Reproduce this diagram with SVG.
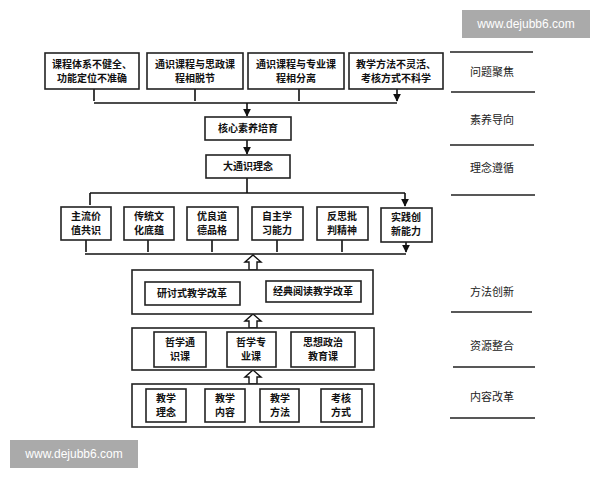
<svg xmlns="http://www.w3.org/2000/svg" width="600" height="480" viewBox="0 0 600 480">
<defs>
<marker id="ah" viewBox="0 0 10 10" refX="9" refY="5" markerWidth="5" markerHeight="5" orient="auto"><path d="M0,0L10,5L0,10z" fill="#111"/></marker>
<style>
.b{fill:#fff;stroke:#222;stroke-width:1.6}
.t{font-family:"Noto Sans CJK SC",sans-serif;font-size:10px;fill:#111;text-anchor:middle;font-weight:bold}
.l{font-family:"Noto Sans CJK SC",sans-serif;font-size:11px;fill:#222;text-anchor:middle}
.c{stroke:#111;stroke-width:1.6;fill:none}
.h{fill:#fff;stroke:#111;stroke-width:1.4}
.s{stroke:#222;stroke-width:1.5}
.w{font-family:"Liberation Sans",sans-serif;font-size:12px;fill:#fff;text-anchor:middle}
</style>
</defs>
<rect width="600" height="480" fill="#fff"/>
<g id="connectors">
<path class="c" d="M94,89V101M195,89V101M299,89V101M397,89V101" marker-end="url(#ah)"/>
<path class="c" d="M94,103H397"/>
<path class="c" d="M247,103V116" marker-end="url(#ah)"/>
<path class="c" d="M247,140V154" marker-end="url(#ah)"/>
<path class="c" d="M247,178V193M90,193H405"/>
<path class="c" d="M90,193V205M405,193V206" marker-end="url(#ah)"/>
<path class="c" d="M86,240V252M148,240V252M212,240V252M277,240V252M342,240V252M406,242V252" marker-end="url(#ah)"/>
<path class="c" d="M85,254H406"/>
<path class="h" d="M249,270V262H245L253,255L261,262H257V270z"/>
<path class="h" d="M249,328V321H245L253,314L261,321H257V328z"/>
<path class="h" d="M249,384V377H245L253,370L261,377H257V384z"/>
</g>
<g id="p1"><rect class="b" x="45" y="53" width="94" height="36"/><text class="t" x="92" y="68">课程体系不健全、</text><text class="t" x="92" y="82">功能定位不准确</text></g>
<g id="p2"><rect class="b" x="147" y="53" width="96" height="36"/><text class="t" x="195" y="68">通识课程与思政课</text><text class="t" x="195" y="82">程相脱节</text></g>
<g id="p3"><rect class="b" x="248" y="53" width="96" height="36"/><text class="t" x="296" y="68">通识课程与专业课</text><text class="t" x="296" y="82">程相分离</text></g>
<g id="p4"><rect class="b" x="349" y="53" width="94" height="36"/><text class="t" x="396" y="68">教学方法不灵活、</text><text class="t" x="396" y="82">考核方式不科学</text></g>
<g id="core"><rect class="b" x="205" y="117" width="86" height="23"/><text class="t" x="248" y="132">核心素养培育</text></g>
<g id="idea"><rect class="b" x="206" y="155" width="84" height="23"/><text class="t" x="248" y="170">大通识理念</text></g>
<g id="k1"><rect class="b" x="61" y="207" width="50" height="33"/><text class="t" x="86" y="220">主流价</text><text class="t" x="86" y="234">值共识</text></g>
<g id="k2"><rect class="b" x="124" y="207" width="50" height="33"/><text class="t" x="149" y="220">传统文</text><text class="t" x="149" y="234">化底蕴</text></g>
<g id="k3"><rect class="b" x="187" y="207" width="51" height="33"/><text class="t" x="212" y="220">优良道</text><text class="t" x="212" y="234">德品格</text></g>
<g id="k4"><rect class="b" x="252" y="207" width="51" height="33"/><text class="t" x="277" y="220">自主学</text><text class="t" x="277" y="234">习能力</text></g>
<g id="k5"><rect class="b" x="317" y="207" width="51" height="33"/><text class="t" x="342" y="220">反思批</text><text class="t" x="342" y="234">判精神</text></g>
<g id="k6"><rect class="b" x="381" y="208" width="51" height="34"/><text class="t" x="406" y="221">实践创</text><text class="t" x="406" y="235">新能力</text></g>
<g id="m"><rect class="b" x="132" y="270" width="241" height="44"/>
<rect class="b" x="145" y="282" width="95" height="23"/><text class="t" x="192" y="297">研讨式教学改革</text>
<rect class="b" x="266" y="281" width="95" height="21"/><text class="t" x="313" y="295">经典阅读教学改革</text></g>
<g id="r"><rect class="b" x="132" y="328" width="242" height="42"/>
<rect class="b" x="154" y="332" width="52" height="35"/><text class="t" x="180" y="346">哲学通</text><text class="t" x="180" y="360">识课</text>
<rect class="b" x="227" y="332" width="49" height="35"/><text class="t" x="251" y="346">哲学专</text><text class="t" x="251" y="360">业课</text>
<rect class="b" x="291" y="332" width="64" height="35"/><text class="t" x="323" y="346">思想政治</text><text class="t" x="323" y="360">教育课</text></g>
<g id="n"><rect class="b" x="132" y="384" width="242" height="43"/>
<rect class="b" x="146" y="389" width="40" height="33"/><text class="t" x="166" y="402">教学</text><text class="t" x="166" y="416">理念</text>
<rect class="b" x="205" y="389" width="40" height="33"/><text class="t" x="225" y="402">教学</text><text class="t" x="225" y="416">内容</text>
<rect class="b" x="260" y="389" width="39" height="33"/><text class="t" x="280" y="402">教学</text><text class="t" x="280" y="416">方法</text>
<rect class="b" x="321" y="389" width="41" height="33"/><text class="t" x="341" y="402">考核</text><text class="t" x="341" y="416">方式</text></g>
<g id="labels">
<path class="s" d="M450,52H533M451,92H535M450,145H534M451,195H535M451,312H532M453,367H535M450,418H535"/>
<text class="l" x="492" y="76">问题聚焦</text>
<text class="l" x="492" y="124">素养导向</text>
<text class="l" x="492" y="172">理念遵循</text>
<text class="l" x="492" y="296">方法创新</text>
<text class="l" x="492" y="350">资源整合</text>
<text class="l" x="492" y="401">内容改革</text>
</g>
<g id="wm">
<rect x="462" y="10" width="128" height="28" fill="#aaa"/><text class="w" x="526" y="28">www.dejubb6.com</text>
<rect x="10" y="440" width="128" height="28" fill="#aaa"/><text class="w" x="74" y="458">www.dejubb6.com</text>
</g>
</svg>
